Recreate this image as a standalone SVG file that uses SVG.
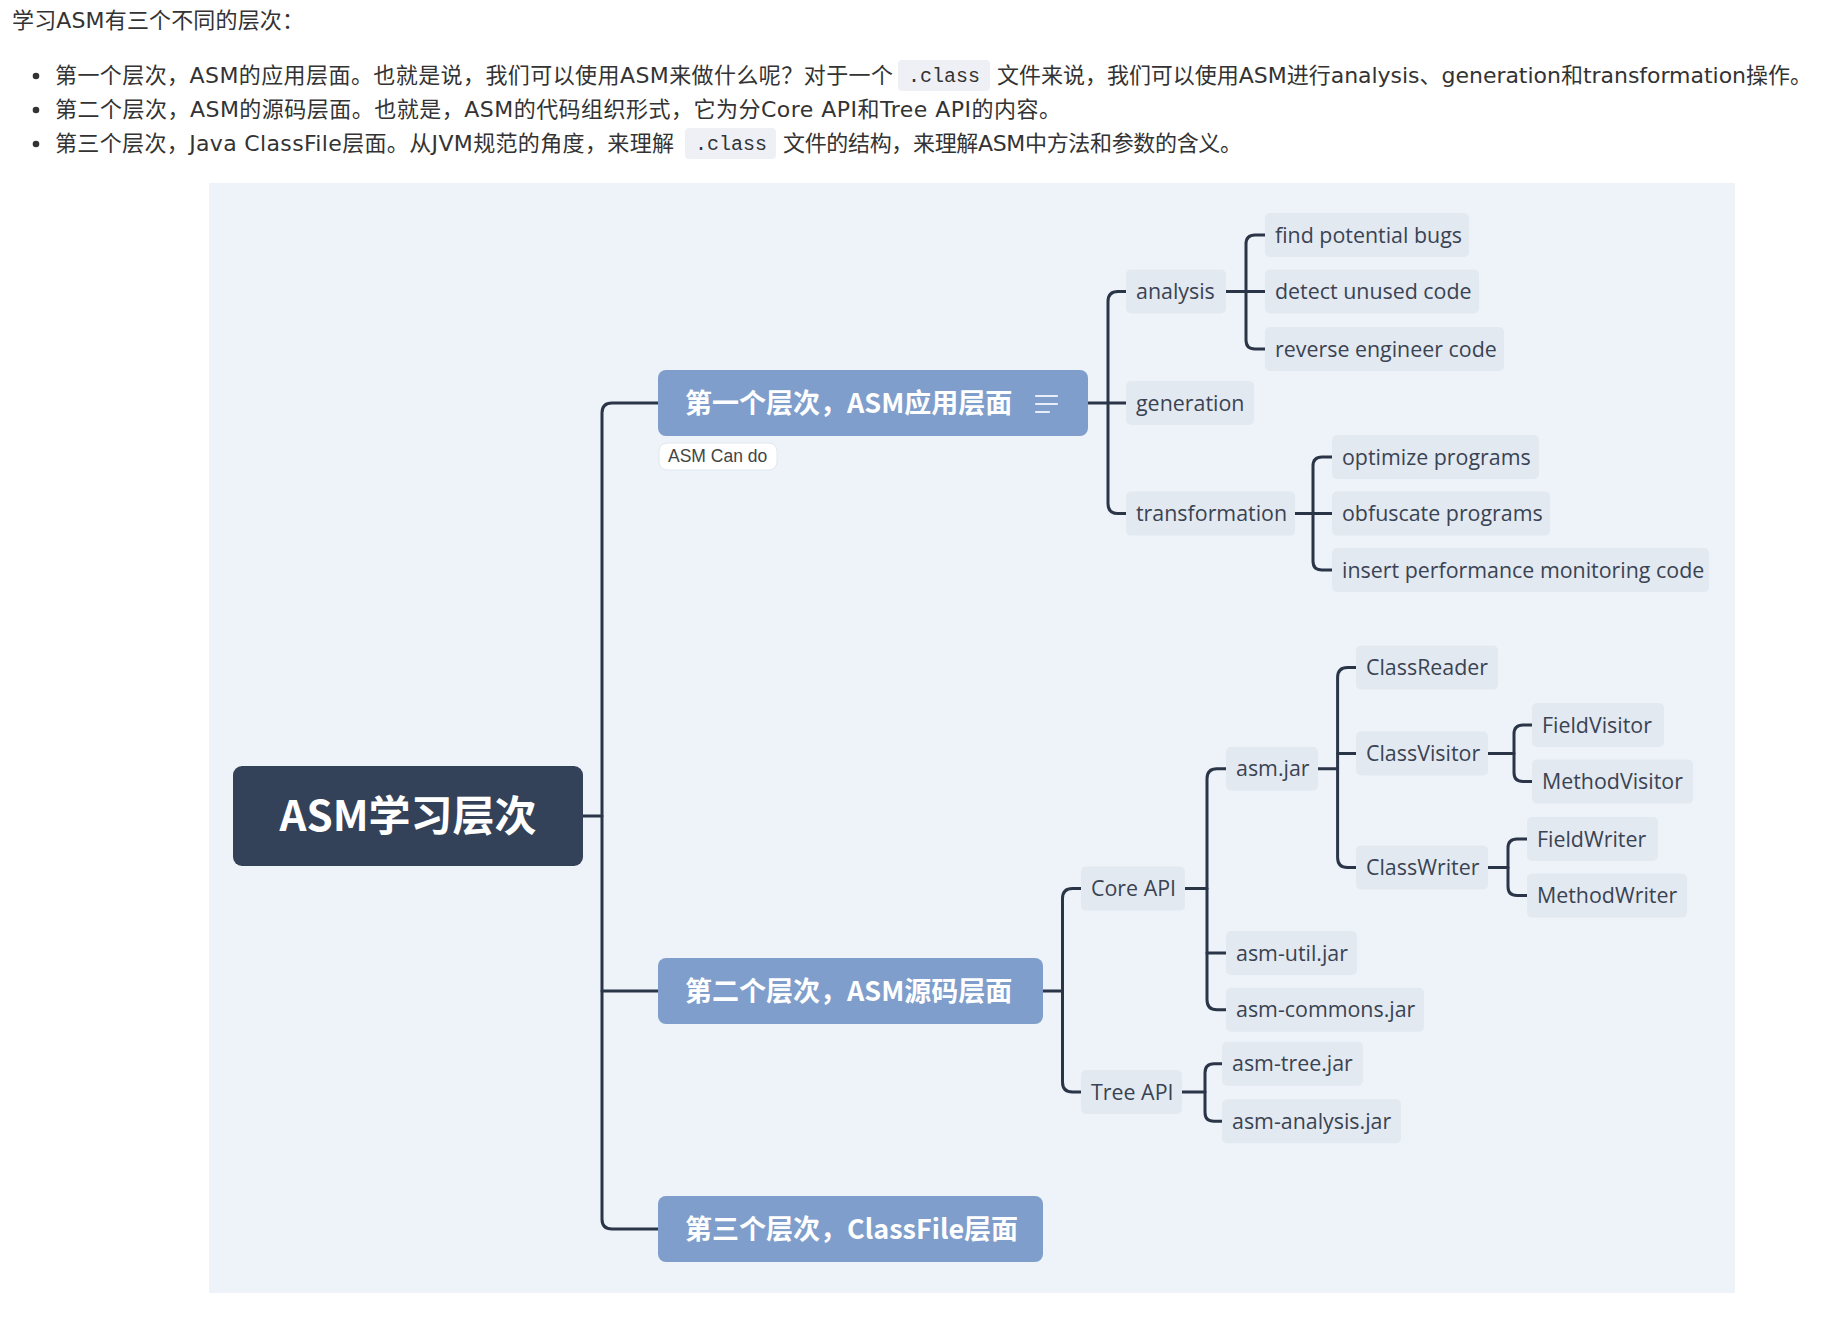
<svg xmlns="http://www.w3.org/2000/svg" width="1843" height="1319" viewBox="0 0 1843 1319">
<style>
.hd{font-family:"DejaVu Sans","Noto Sans CJK SC",sans-serif;font-size:22px;fill:#333333}
.code{font-family:"Liberation Mono","DejaVu Sans Mono",monospace;font-size:20px;fill:#333333}
.codebg{fill:#eff0f6}
.conn{fill:none;stroke:#2b3548;stroke-width:3;stroke-linecap:round;stroke-linejoin:round}
.leafbg{fill:#e3e9f1}
.leaf{font-family:"Open Sans","Noto Sans",sans-serif;font-size:21.4px;fill:#3a4352}
.br{fill:#7f9ecb}
.brt{font-family:"Noto Sans CJK SC",sans-serif;font-weight:bold;font-size:27px;fill:#ffffff}
</style>
<rect width="1843" height="1319" fill="#ffffff"/>
<g id="header">
<text class="hd" x="12" y="28" textLength="292" lengthAdjust="spacing">学习ASM有三个不同的层次：</text>
<circle cx="36" cy="76" r="3.3" fill="#333"/>
<circle cx="36" cy="110" r="3.3" fill="#333"/>
<circle cx="36" cy="144" r="3.3" fill="#333"/>
<text class="hd" x="55" y="83" textLength="838" lengthAdjust="spacing">第一个层次，ASM的应用层面。也就是说，我们可以使用ASM来做什么呢？对于一个</text>
<rect class="codebg" x="898" y="60" width="92" height="31" rx="4"/>
<text class="code" x="908" y="82">.class</text>
<text class="hd" x="997" y="83" textLength="815" lengthAdjust="spacing">文件来说，我们可以使用ASM进行analysis、generation和transformation操作。</text>
<text class="hd" x="55" y="117" textLength="1006" lengthAdjust="spacing">第二个层次，ASM的源码层面。也就是，ASM的代码组织形式，它为分Core API和Tree API的内容。</text>
<text class="hd" x="55" y="151" textLength="619" lengthAdjust="spacing">第三个层次，Java ClassFile层面。从JVM规范的角度，来理解</text>
<rect class="codebg" x="685" y="128" width="91" height="31" rx="4"/>
<text class="code" x="695" y="150">.class</text>
<text class="hd" x="783" y="151" textLength="459" lengthAdjust="spacing">文件的结构，来理解ASM中方法和参数的含义。</text>
</g>
<rect id="canvas" x="209" y="183" width="1526" height="1110" fill="#eef3f9"/>
<g id="connectors" class="conn">
<path d="M583 816H602"/>
<path d="M658 403H612Q602 403 602 413V1219Q602 1229 612 1229H658"/>
<path d="M602 991H658"/>
<path d="M1088 403H1126"/>
<path d="M1126 291.5H1118Q1108 291.5 1108 301.5V503.6Q1108 513.6 1118 513.6H1126"/>
<path d="M1226 291.5H1265"/>
<path d="M1265 235H1255Q1246 235 1246 244V340Q1246 349 1255 349H1265"/>
<path d="M1295 513.6H1332"/>
<path d="M1332 457H1322Q1313 457 1313 466V561Q1313 570 1322 570H1332"/>
<path d="M1043 991H1062.5"/>
<path d="M1081 888.6H1072.5Q1062.5 888.6 1062.5 898.6V1082Q1062.5 1092 1072.5 1092H1081"/>
<path d="M1185 888.6H1207"/>
<path d="M1226 768.7H1217Q1207 768.7 1207 778.7V999.7Q1207 1009.7 1217 1009.7H1226"/>
<path d="M1207 953H1226"/>
<path d="M1318 768.7H1337.6"/>
<path d="M1356 667.6H1347.6Q1337.6 667.6 1337.6 677.6V857.4Q1337.6 867.4 1347.6 867.4H1356"/>
<path d="M1337.6 753.4H1356"/>
<path d="M1488 753.4H1514"/>
<path d="M1532 725H1523Q1514 725 1514 734V772.6Q1514 781.6 1523 781.6H1532"/>
<path d="M1488 867.4H1508"/>
<path d="M1527 839H1517Q1508 839 1508 848V886.6Q1508 895.6 1517 895.6H1527"/>
<path d="M1182 1092H1205"/>
<path d="M1222 1063.7H1214Q1205 1063.7 1205 1072.7V1112.3Q1205 1121.3 1214 1121.3H1222"/>
</g>
<g id="root">
<rect x="233" y="766" width="350" height="100" rx="9" fill="#334259"/>
<text x="408" y="831" text-anchor="middle" font-family="Noto Sans CJK SC,sans-serif" font-weight="bold" font-size="42" fill="#ffffff">ASM学习层次</text>
</g>
<g id="branch1">
<rect class="br" x="658" y="370" width="430" height="66" rx="8"/>
<text class="brt" x="685" y="413">第一个层次，ASM应用层面</text>
<g stroke="#e9eff8" stroke-width="2.2" stroke-linecap="round">
<line x1="1036" y1="396" x2="1057" y2="396"/>
<line x1="1036" y1="404" x2="1057" y2="404"/>
<line x1="1036" y1="412" x2="1049" y2="412"/>
</g>
</g>
<g id="note1">
<rect x="659" y="443" width="118" height="27" rx="8" fill="#ffffff" stroke="#e1e6ee"/>
<text x="668" y="462" font-family="Liberation Sans,Arial,sans-serif" font-size="17.5" fill="#444444">ASM Can do</text>
</g>
<g id="branch2">
<rect class="br" x="658" y="958" width="385" height="66" rx="8"/>
<text class="brt" x="685" y="1001">第二个层次，ASM源码层面</text>
</g>
<g id="branch3">
<rect class="br" x="658" y="1196" width="385" height="66" rx="8"/>
<text class="brt" x="685" y="1239">第三个层次，ClassFile层面</text>
</g>
<g id="analysis"><rect class="leafbg" x="1126" y="269.5" width="100" height="44" rx="5"/><text class="leaf" x="1136" y="299">analysis</text></g>
<g id="generation"><rect class="leafbg" x="1126" y="381" width="128" height="44" rx="5"/><text class="leaf" x="1136" y="410.5">generation</text></g>
<g id="transformation"><rect class="leafbg" x="1126" y="491.6" width="169" height="44" rx="5"/><text class="leaf" x="1136" y="521">transformation</text></g>
<g id="find"><rect class="leafbg" x="1265" y="213" width="204" height="44" rx="5"/><text class="leaf" x="1275" y="242.5">find potential bugs</text></g>
<g id="detect"><rect class="leafbg" x="1265" y="269.5" width="214" height="44" rx="5"/><text class="leaf" x="1275" y="299">detect unused code</text></g>
<g id="reverse"><rect class="leafbg" x="1265" y="327" width="239" height="44" rx="5"/><text class="leaf" x="1275" y="356.5">reverse engineer code</text></g>
<g id="optimize"><rect class="leafbg" x="1332" y="435" width="207" height="44" rx="5"/><text class="leaf" x="1342" y="464.5">optimize programs</text></g>
<g id="obfuscate"><rect class="leafbg" x="1332" y="491.6" width="218" height="44" rx="5"/><text class="leaf" x="1342" y="521">obfuscate programs</text></g>
<g id="insert"><rect class="leafbg" x="1332" y="548" width="377" height="44" rx="5"/><text class="leaf" x="1342" y="577.5">insert performance monitoring code</text></g>
<g id="coreapi"><rect class="leafbg" x="1081" y="866.6" width="104" height="44" rx="5"/><text class="leaf" x="1091" y="896">Core API</text></g>
<g id="treeapi"><rect class="leafbg" x="1081" y="1070" width="101" height="44" rx="5"/><text class="leaf" x="1091" y="1099.5">Tree API</text></g>
<g id="asmjar"><rect class="leafbg" x="1226" y="746.7" width="92" height="44" rx="5"/><text class="leaf" x="1236" y="776">asm.jar</text></g>
<g id="asmutil"><rect class="leafbg" x="1226" y="931" width="131" height="44" rx="5"/><text class="leaf" x="1236" y="960.5">asm-util.jar</text></g>
<g id="asmcommons"><rect class="leafbg" x="1226" y="987.7" width="198" height="44" rx="5"/><text class="leaf" x="1236" y="1017">asm-commons.jar</text></g>
<g id="classreader"><rect class="leafbg" x="1356" y="645.6" width="142" height="44" rx="5"/><text class="leaf" x="1366" y="675">ClassReader</text></g>
<g id="classvisitor"><rect class="leafbg" x="1356" y="731.4" width="132" height="44" rx="5"/><text class="leaf" x="1366" y="761">ClassVisitor</text></g>
<g id="classwriter"><rect class="leafbg" x="1356" y="845.4" width="132" height="44" rx="5"/><text class="leaf" x="1366" y="875">ClassWriter</text></g>
<g id="fieldvisitor"><rect class="leafbg" x="1532" y="703" width="132" height="44" rx="5"/><text class="leaf" x="1542" y="732.5">FieldVisitor</text></g>
<g id="methodvisitor"><rect class="leafbg" x="1532" y="759.6" width="161" height="44" rx="5"/><text class="leaf" x="1542" y="789">MethodVisitor</text></g>
<g id="fieldwriter"><rect class="leafbg" x="1527" y="817" width="131" height="44" rx="5"/><text class="leaf" x="1537" y="846.5">FieldWriter</text></g>
<g id="methodwriter"><rect class="leafbg" x="1527" y="873.6" width="160" height="44" rx="5"/><text class="leaf" x="1537" y="903">MethodWriter</text></g>
<g id="asmtree"><rect class="leafbg" x="1222" y="1041.7" width="141" height="44" rx="5"/><text class="leaf" x="1232" y="1071">asm-tree.jar</text></g>
<g id="asmanalysis"><rect class="leafbg" x="1222" y="1099.3" width="179" height="44" rx="5"/><text class="leaf" x="1232" y="1129">asm-analysis.jar</text></g>
</svg>
